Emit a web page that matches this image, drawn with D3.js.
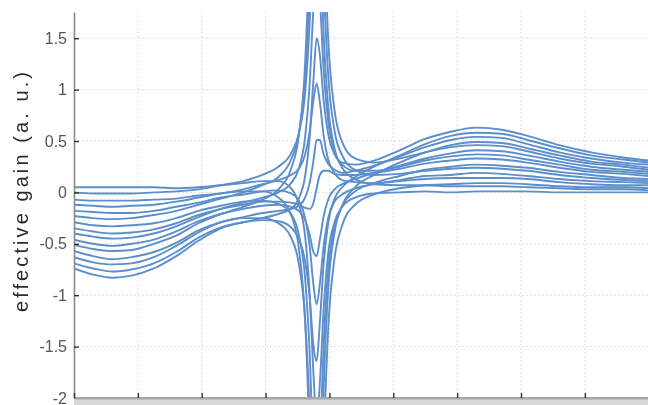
<!DOCTYPE html>
<meta charset="utf-8">
<style>
body { margin: 0; background: #fff; }
.tick text { font: 16px "Liberation Sans", Arial, sans-serif; fill: #555; }
.grid line { stroke: #d4d4d4; stroke-width: 1px; stroke-dasharray: 1.5 2.5; }
.curve { fill: none; stroke: #5b8ecc; stroke-width: 1.9px; }
</style>
<body>
<svg width="648" height="405"></svg>
<script src="https://cdnjs.cloudflare.com/ajax/libs/d3/7.8.5/d3.min.js"></script>
<script>

// sample positions along the (unlabelled) x axis
var xValues = [0, 0.3, 0.6, 0.9, 1.25, 1.6, 1.95, 2.3, 2.65, 2.95, 3.2, 3.4, 3.52, 3.62, 3.69, 3.75, 3.8, 3.85, 3.91, 3.98,
               4.08, 4.2, 4.4, 4.7, 5.1, 5.5, 5.9, 6.3, 6.7, 7.1, 7.6, 8.1, 8.6, 9.0];

// one row per trace
var gainCurves = [
  [0.05,0.05,0.05,0.05,0.05,0.04,0.05,0.07,0.09,0.11,0.11,0.04,-0.11,-0.43,-0.98,-1.77,-2.22,-1.86,-1.13,-0.60,-0.29,-0.14,-0.05,-0.01,0.00,0.01,0.00,0.01,0.01,0.01,0.00,0.00,0.00,0.00],
  [0.00,-0.01,-0.01,-0.01,0.00,0.01,0.03,0.07,0.11,0.17,0.25,0.38,0.57,0.97,1.64,2.59,3.07,2.53,1.53,0.84,0.43,0.24,0.13,0.08,0.07,0.07,0.06,0.06,0.06,0.05,0.04,0.03,0.03,0.02],
  [-0.07,-0.08,-0.08,-0.08,-0.07,-0.06,-0.03,-0.01,0.01,0.01,-0.05,-0.22,-0.54,-1.26,-2.44,-4.13,-5.03,-4.17,-2.51,-1.34,-0.64,-0.32,-0.12,-0.02,0.04,0.07,0.08,0.09,0.09,0.08,0.06,0.05,0.05,0.04],
  [-0.12,-0.13,-0.14,-0.13,-0.12,-0.09,-0.05,-0.01,0.03,0.08,0.12,0.17,0.23,0.37,0.59,0.90,1.06,0.88,0.55,0.32,0.19,0.12,0.10,0.09,0.11,0.13,0.14,0.14,0.14,0.13,0.10,0.08,0.07,0.07],
  [-0.18,-0.19,-0.20,-0.20,-0.18,-0.14,-0.10,-0.05,-0.02,0.01,0.02,-0.01,-0.08,-0.25,-0.52,-0.90,-1.09,-0.89,-0.52,-0.25,-0.09,-0.02,0.04,0.08,0.12,0.16,0.17,0.19,0.18,0.16,0.13,0.11,0.10,0.09],
  [-0.23,-0.25,-0.26,-0.25,-0.22,-0.18,-0.12,-0.06,0.00,0.07,0.15,0.32,0.57,1.12,2.03,3.34,4.05,3.37,2.06,1.15,0.60,0.36,0.22,0.17,0.18,0.21,0.23,0.24,0.23,0.21,0.17,0.14,0.12,0.11],
  [-0.29,-0.32,-0.33,-0.32,-0.30,-0.25,-0.18,-0.13,-0.09,-0.08,-0.11,-0.21,-0.41,-0.84,-1.55,-2.55,-3.05,-2.50,-1.48,-0.76,-0.33,-0.13,0.01,0.09,0.16,0.22,0.25,0.27,0.26,0.24,0.20,0.17,0.14,0.13],
  [-0.35,-0.38,-0.40,-0.39,-0.36,-0.30,-0.22,-0.16,-0.12,-0.09,-0.09,-0.10,-0.12,-0.15,-0.16,-0.10,0.04,0.17,0.21,0.21,0.18,0.17,0.17,0.19,0.23,0.28,0.31,0.33,0.32,0.29,0.24,0.20,0.18,0.16],
  [-0.40,-0.43,-0.45,-0.44,-0.40,-0.33,-0.24,-0.16,-0.10,-0.05,0.00,0.09,0.23,0.54,1.05,1.80,2.23,1.89,1.19,0.70,0.40,0.27,0.21,0.21,0.25,0.31,0.35,0.37,0.36,0.32,0.27,0.22,0.20,0.18],
  [-0.46,-0.50,-0.52,-0.50,-0.46,-0.38,-0.28,-0.21,-0.16,-0.13,-0.12,-0.14,-0.18,-0.27,-0.41,-0.58,-0.62,-0.46,-0.23,-0.07,0.03,0.08,0.13,0.19,0.26,0.33,0.38,0.41,0.40,0.36,0.30,0.25,0.22,0.20],
  [-0.51,-0.55,-0.57,-0.56,-0.50,-0.42,-0.30,-0.21,-0.14,-0.07,0.03,0.23,0.55,1.26,2.44,4.16,5.12,4.30,2.66,1.50,0.80,0.49,0.33,0.29,0.33,0.39,0.44,0.46,0.45,0.40,0.33,0.28,0.25,0.22],
  [-0.57,-0.62,-0.65,-0.63,-0.58,-0.49,-0.37,-0.29,-0.25,-0.25,-0.30,-0.44,-0.69,-1.24,-2.14,-3.39,-3.98,-3.22,-1.89,-0.95,-0.39,-0.13,0.05,0.17,0.29,0.39,0.46,0.49,0.48,0.43,0.36,0.30,0.27,0.24],
  [-0.63,-0.68,-0.70,-0.69,-0.63,-0.52,-0.39,-0.29,-0.24,-0.20,-0.18,-0.16,-0.13,-0.05,0.09,0.31,0.51,0.51,0.37,0.28,0.22,0.19,0.21,0.26,0.35,0.44,0.51,0.54,0.53,0.47,0.39,0.33,0.29,0.27],
  [-0.69,-0.74,-0.77,-0.75,-0.69,-0.58,-0.44,-0.34,-0.29,-0.27,-0.28,-0.34,-0.45,-0.67,-1.02,-1.49,-1.64,-1.27,-0.69,-0.30,-0.06,0.05,0.15,0.25,0.36,0.47,0.55,0.58,0.57,0.51,0.43,0.36,0.32,0.29],
  [-0.74,-0.80,-0.83,-0.81,-0.74,-0.62,-0.47,-0.35,-0.29,-0.25,-0.21,-0.16,-0.06,0.16,0.53,1.10,1.50,1.34,0.89,0.57,0.37,0.29,0.27,0.31,0.41,0.52,0.59,0.63,0.61,0.55,0.46,0.39,0.34,0.31]
];

var xTicks = [0, 1, 2, 3, 4, 5, 6, 7, 8, 9];
var yTicks = [-2, -1.5, -1, -0.5, 0, 0.5, 1, 1.5];
var yLabel = "effective gain (a. u.)";

var plotLeft = 74, plotTop = 12, plotBottom = 398, plotRight = 648.7;

var svg = d3.select("svg");

var defs = svg.append("defs");
defs.append("filter")
    .attr("id", "soft")
    .append("feGaussianBlur")
    .attr("stdDeviation", 0.6);

defs.append("clipPath")
    .attr("id", "plotclip")
  .append("rect")
    .attr("x", plotLeft).attr("y", plotTop)
    .attr("width", plotRight - plotLeft).attr("height", plotBottom - plotTop);

var x = d3.scaleLinear().domain([0, 9]).range([plotLeft, plotRight]);
var y = d3.scaleLinear().domain([-2, 1.755]).range([plotBottom, plotTop]);

var g = svg.append("g").attr("filter", "url(#soft)");

// grid
var grid = g.append("g").attr("class", "grid");
grid.selectAll("line.gy")
    .data(yTicks.filter(function(d) { return d > -2; }))
    .enter().append("line")
    .attr("x1", plotLeft).attr("x2", plotRight)
    .attr("y1", function(d) { return y(d); })
    .attr("y2", function(d) { return y(d); });
grid.selectAll("line.gx")
    .data(xTicks.filter(function(d) { return d > 0 && d < 9; }))
    .enter().append("line")
    .attr("y1", plotTop).attr("y2", plotBottom)
    .attr("x1", function(d) { return x(d); })
    .attr("x2", function(d) { return x(d); });

// traces
var line = d3.line()
    .x(function(d, i) { return x(xValues[i]); })
    .y(function(d) { return y(d); })
    .curve(d3.curveMonotoneX);

g.append("g")
    .attr("clip-path", "url(#plotclip)")
  .selectAll("path")
    .data(gainCurves)
    .enter().append("path")
    .attr("class", "curve")
    .attr("d", line);

// axes
var yAxis = g.append("g")
    .attr("transform", "translate(" + plotLeft + ",0)")
    .call(d3.axisLeft(y).tickValues(yTicks).tickSizeInner(-5).tickSizeOuter(0).tickPadding(7)
        .tickFormat(function(d) { return String(d); }));
yAxis.select(".domain").attr("stroke", "#8a8a8a").attr("stroke-width", 1.6);
yAxis.selectAll(".tick line").attr("stroke", "#333").attr("stroke-width", 1.4);

// x tick labels sit below the visible area in the reference
var xAxis = g.append("g")
    .attr("transform", "translate(0," + plotBottom + ")")
    .call(d3.axisBottom(x).tickValues(xTicks).tickSizeInner(-5).tickSizeOuter(0).tickFormat(""));
xAxis.select(".domain").attr("stroke", "#a6a6a6").attr("stroke-width", 3);
xAxis.selectAll(".tick line").attr("stroke", "#333").attr("stroke-width", 1.4);

g.append("rect")
    .attr("x", plotLeft).attr("y", plotBottom + 1.5)
    .attr("width", plotRight - plotLeft).attr("height", 10)
    .attr("fill", "#d8d8d8");

g.append("text")
    .attr("transform", "translate(28,192) rotate(-90)")
    .attr("text-anchor", "middle")
    .attr("textLength", 240)
    .attr("lengthAdjust", "spacing")
    .style("font", "20px 'Liberation Sans', Arial, sans-serif")
    .style("fill", "#2b2b2b")
    .text(yLabel);

</script>
